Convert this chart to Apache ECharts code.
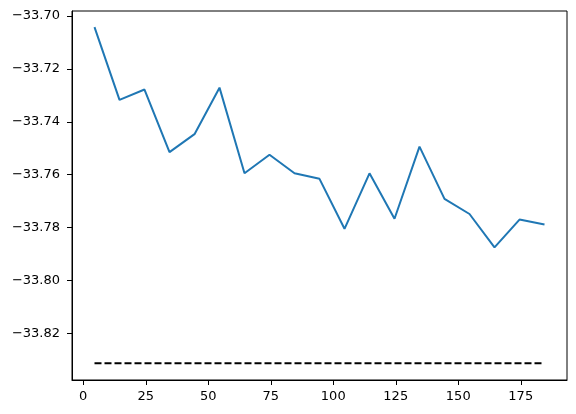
<!DOCTYPE html>
<html>
<head>
<meta charset="utf-8">
<script src="https://cdn.jsdelivr.net/npm/echarts@6/dist/echarts.min.js"></script>
<style>html,body{margin:0;padding:0;background:#fff}#c{width:576px;height:414px}</style>
</head>
<body>
<div id="c"></div>
<script>
const xValues = [4.5, 14.5, 24.5, 34.5, 44.5, 54.5, 64.5, 74.5, 84.5, 94.5, 104.5, 114.5, 124.5, 134.5, 144.5, 154.5, 164.5, 174.5, 184.5];
const seriesValues = [-33.7042, -33.7317, -33.7278, -33.7515, -33.7447, -33.7271, -33.7595, -33.7525, -33.7595, -33.7616, -33.7805, -33.7595, -33.7767, -33.7494, -33.7692, -33.7749, -33.7875, -33.7770, -33.7789];
const refValue = -33.8314;
const xTicks = [0, 25, 50, 75, 100, 125, 150, 175];
const yTicks = [-33.82, -33.80, -33.78, -33.76, -33.74, -33.72, -33.70];

const lineData = xValues.map((x, i) => [x, seriesValues[i]]);
const refData = [[xValues[0], refValue], [xValues[xValues.length - 1], refValue]];

const chart = echarts.init(document.getElementById('c'), null, {renderer: 'canvas'});
const font = 'DejaVu Sans';
chart.setOption({
  animation: false,
  backgroundColor: '#fff',
  grid: {left: 72, right: 9, top: 11, bottom: 34, show: true, borderColor: '#000', borderWidth: 1, backgroundColor: 'transparent'},
  xAxis: {
    type: 'value', min: -4.5, max: 193.5,
    splitLine: {show: false},
    axisLine: {show: true, onZero: false, lineStyle: {color: '#000', width: 1}},
    axisTick: {show: true, length: 5, lineStyle: {color: '#000'}, customValues: xTicks},
    axisLabel: {color: '#000', fontFamily: font, fontSize: 13, margin: 10, customValues: xTicks, formatter: v => String(v)}
  },
  yAxis: {
    type: 'value', min: -33.8377, max: -33.6981,
    splitLine: {show: false},
    axisLine: {show: true, onZero: false, lineStyle: {color: '#000', width: 1}},
    axisTick: {show: true, length: 5, lineStyle: {color: '#000'}, customValues: yTicks},
    axisLabel: {color: '#000', fontFamily: font, fontSize: 13, margin: 12, customValues: yTicks,
      formatter: v => (v < 0 ? '\u2212' : '') + Math.abs(v).toFixed(2)}
  },
  series: [
    {type: 'line', data: lineData, showSymbol: false, lineStyle: {color: '#1f77b4', width: 2}, z: 3},
    {type: 'line', data: refData, showSymbol: false, lineStyle: {color: '#000', width: 2, type: [7, 3]}, z: 2}
  ]
});
</script>
</body>
</html>
